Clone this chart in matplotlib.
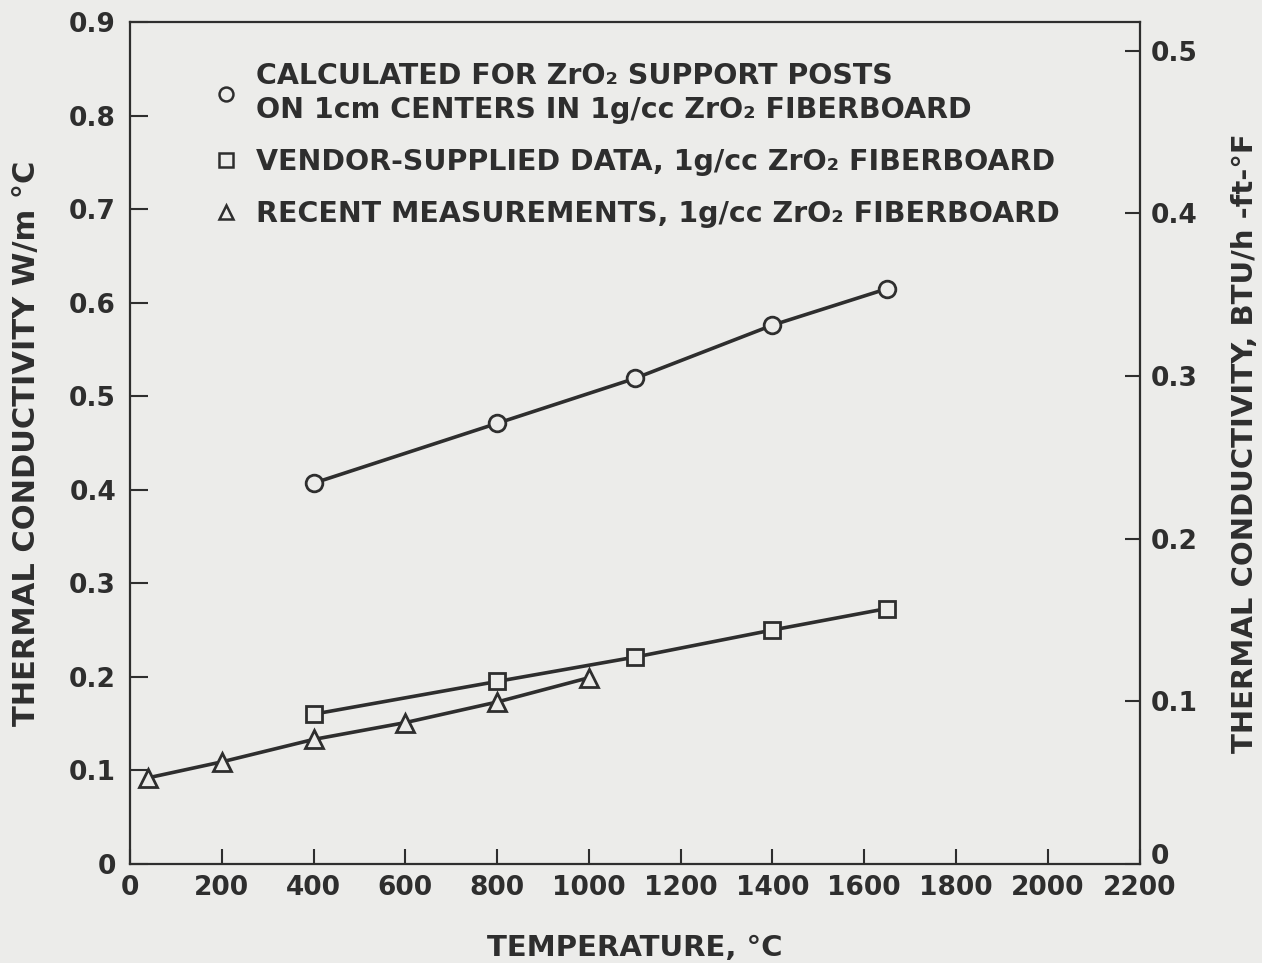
import numpy as np
import matplotlib.pyplot as plt
from matplotlib.lines import Line2D

# data
temp_calc = [400, 800, 1100, 1400, 1650]
k_calc = [0.407, 0.471, 0.519, 0.576, 0.615]

temp_vendor = [400, 800, 1100, 1400, 1650]
k_vendor = [0.160, 0.195, 0.221, 0.250, 0.273]

temp_meas = [40, 200, 400, 600, 800, 1000]
k_meas = [0.092, 0.109, 0.133, 0.151, 0.173, 0.199]

x_ticks = [0, 200, 400, 600, 800, 1000, 1200, 1400, 1600, 1800, 2000, 2200]
y_ticks = [0, 0.1, 0.2, 0.3, 0.4, 0.5, 0.6, 0.7, 0.8, 0.9]
y_tick_labels = ['0', '0.1', '0.2', '0.3', '0.4', '0.5', '0.6', '0.7', '0.8', '0.9']
btu_ticks = [0, 0.1, 0.2, 0.3, 0.4, 0.5]
btu_tick_labels = ['0', '0.1', '0.2', '0.3', '0.4', '0.5']
BTU_PER_WMK = 0.575

legend_labels = [
    'CALCULATED FOR ZrO₂ SUPPORT POSTS\nON 1cm CENTERS IN 1g/cc ZrO₂ FIBERBOARD',
    'VENDOR-SUPPLIED DATA, 1g/cc ZrO₂ FIBERBOARD',
    'RECENT MEASUREMENTS, 1g/cc ZrO₂ FIBERBOARD',
]

bg = '#ececea'
ink = '#2e2e2e'

plt.rcParams['font.family'] = ['DejaVu Sans']
plt.rcParams['font.weight'] = 'bold'

fig = plt.figure(figsize=(12.62, 9.63), dpi=100, facecolor=bg)
ax = fig.add_axes([0.103, 0.103, 0.800, 0.874], facecolor=bg)

line_kw = dict(color=ink, linewidth=2.6, markerfacecolor=bg,
               markeredgecolor=ink, markeredgewidth=2.0)
ax.plot(temp_calc, k_calc, marker='o', markersize=12, **line_kw)
ax.plot(temp_vendor, k_vendor, marker='s', markersize=12, **line_kw)
ax.plot(temp_meas, k_meas, marker='^', markersize=13, **line_kw)

ax.set_xlim(0, 2200)
ax.set_ylim(0, 0.9)
ax.set_xticks(x_ticks)
ax.set_yticks(y_ticks)
ax.set_yticklabels(y_tick_labels)

for s in ax.spines.values():
    s.set_linewidth(1.6)
    s.set_color(ink)

ax.tick_params(axis='both', direction='in', width=1.5, colors=ink,
               labelsize=19)
ax.tick_params(axis='x', length=11, pad=8)
ax.tick_params(axis='y', length=13, pad=10)

ax.set_xlabel('TEMPERATURE, °C', fontsize=21, fontweight='bold', color=ink,
              labelpad=24)
ax.set_ylabel('THERMAL CONDUCTIVITY W/m °C', fontsize=22, fontweight='bold',
              color=ink, labelpad=20)

# right axis in BTU/h-ft-F
ax2 = ax.twinx()
ax2.set_ylim(0, 0.9 * BTU_PER_WMK)
ax2.set_yticks(btu_ticks)
ax2.set_yticklabels(btu_tick_labels)
for s in ax2.spines.values():
    s.set_visible(False)
ax2.tick_params(axis='y', direction='in', length=11, width=1.5, colors=ink,
                labelsize=19, pad=8)
ax2.get_yticklabels()[0].set_verticalalignment('baseline')
ax2.set_ylabel('THERMAL CONDUCTIVITY, BTU/h -ft-°F', fontsize=21,
               fontweight='bold', color=ink, labelpad=24)

# legend
handles = [
    Line2D([], [], linestyle='none', marker='o', markersize=10,
           markerfacecolor=bg, markeredgecolor=ink, markeredgewidth=1.8),
    Line2D([], [], linestyle='none', marker='s', markersize=10,
           markerfacecolor=bg, markeredgecolor=ink, markeredgewidth=1.8),
    Line2D([], [], linestyle='none', marker='^', markersize=10,
           markerfacecolor=bg, markeredgecolor=ink, markeredgewidth=1.8),
]
leg = ax.legend(handles, legend_labels, loc='upper left',
                bbox_to_anchor=(0.06, 0.983), frameon=False,
                handlelength=0.7, handletextpad=0.7, labelspacing=0.85,
                prop={'weight': 'bold', 'size': 20.5})
for t in leg.get_texts():
    t.set_color(ink)
    t.set_linespacing(1.25)

fig.savefig('out.png', dpi=100, facecolor=bg)
